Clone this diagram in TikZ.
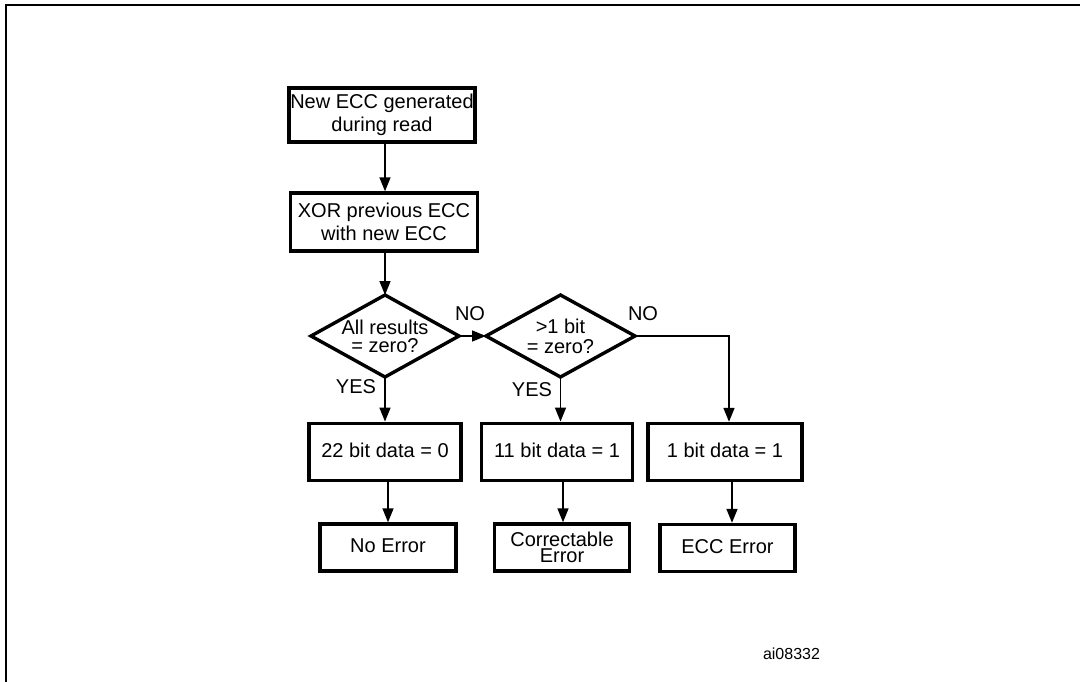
\documentclass[tikz,border=0pt]{standalone}
\usepackage{fontspec}
\setmainfont{Liberation Sans}
\usetikzlibrary{arrows.meta,shapes.geometric}
\begin{document}
\begin{tikzpicture}[x=1pt,y=-1pt,
  box/.style={draw, line width=3.4pt, inner sep=0pt, align=center, font=\fontsize{20pt}{23pt}\selectfont},
  sbox/.style={box, text height=14pt, text depth=4pt},
  dia/.style={draw, diamond, line width=3.4pt, inner sep=0pt, outer sep=0pt, miter limit=10},
  txt/.style={inner sep=0pt, align=center, font=\fontsize{20pt}{18pt}\selectfont},
  arr/.style={line width=1.5pt, -{Triangle[length=14pt,width=11pt]}},
  frame/.style={line width=2.2pt}
]
\useasboundingbox (0,0) rectangle (1080,682);
\coordinate (fa) at (6,700);
\coordinate (fb) at (6,5);
\coordinate (fc) at (1100,5);
\draw[frame] (fa) -- (fb) -- (fc);

\node[box, minimum width=186pt, minimum height=54pt] (n1) at (382,115) {New ECC generated\\during read};
\node[box, minimum width=187pt, minimum height=58pt, font=\fontsize{20pt}{23.5pt}\selectfont] (n2) at (384,222) {XOR previous ECC\\with new ECC};

\node[dia, minimum width=148pt, minimum height=82pt] (d1) at (385,336) {};
\node[txt] (t1) at (385,336) {All results\\= zero?};
\node[dia, minimum width=149pt, minimum height=82pt] (d2) at (560.5,336) {};
\node[txt, font=\fontsize{20pt}{20pt}\selectfont] (t2) at (560.5,336) {>1 bit\\= zero?};

\node[sbox, minimum width=152pt, minimum height=57.5pt] (a) at (385,452) {22 bit data = 0};
\node[sbox, minimum width=151.5pt, minimum height=57.5pt] (b) at (557,452) {11 bit data = 1};
\node[sbox, minimum width=154pt, minimum height=57pt] (c) at (725,452) {1 bit data = 1};

\node[sbox, minimum width=136pt, minimum height=47pt] (ne) at (388,547.5) {No Error};
\node[box, minimum width=135.5pt, minimum height=47pt, font=\fontsize{20pt}{16.5pt}\selectfont] (ce) at (562,547.5) {Correctable\\Error};
\node[sbox, minimum width=135pt, minimum height=47pt] (ee) at (727.5,548) {ECC Error};

\node[txt] (no1) at (470,313.5) {NO};
\node[txt] (no2) at (643,313.5) {NO};
\node[txt] (yes1) at (356,386.5) {YES};
\node[txt] (yes2) at (532,390) {YES};
\node[txt, font=\fontsize{16pt}{18pt}\selectfont] (id) at (791.5,654) {ai08332};

\draw[arr] (n1.south -| d1.north) -- (n2.north -| d1.north);
\draw[arr] (n2.south -| d1.north) -- (d1.north);
\draw[arr] (d1.east) -- (d2.west);
\draw[arr] (d1.south) -- (a.north);
\draw[arr] (d2.south) -- (d2.south |- b.north);
\draw[arr] (d2.east) -| ([xshift=4pt]c.north);
\draw[arr] (a.south -| ne.north) -- (ne.north);
\draw[arr] ([xshift=6pt]b.south) -- ([xshift=6pt]b.south |- ce.north);
\draw[arr] ([xshift=7pt]c.south) -- ([xshift=7pt]c.south |- ee.north);
\end{tikzpicture}
\end{document}
